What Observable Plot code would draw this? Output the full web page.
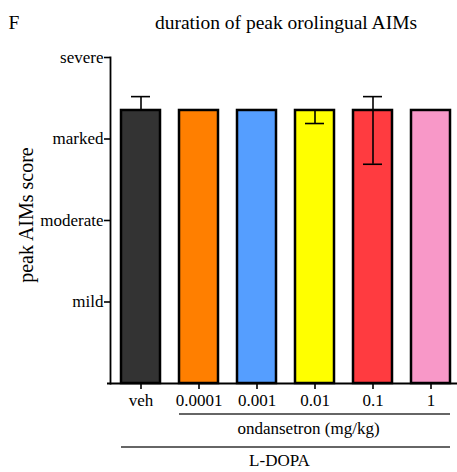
<!DOCTYPE html>
<html>
<head>
<meta charset="utf-8">
<script src="https://cdn.jsdelivr.net/npm/d3@7"></script>
<script src="https://cdn.jsdelivr.net/npm/@observablehq/plot@0.6"></script>
<style>
  html, body { margin: 0; padding: 0; background: white; }
</style>
</head>
<body>
<div id="chart"></div>
<script>
const categories = ["veh", "0.0001", "0.001", "0.01", "0.1", "1"];
const values = [3.35, 3.35, 3.35, 3.35, 3.35, 3.35];
const errHigh = [3.52, null, null, null, 3.52, null];
const errLow = [null, null, null, 3.19, 2.69, null];
const colors = ["#333333", "#FF7F00", "#559EFF", "#FFFF00", "#FF3B40", "#F898C8"];
const yTickValues = [1, 2, 3, 4];
const yTickLabels = ["mild", "moderate", "marked", "severe"];
const title = "duration of peak orolingual AIMs";
const panelLetter = "F";
const yLabel = "peak AIMs score";
const groupDrug = "ondansetron (mg/kg)";
const groupDrugCats = ["0.0001", "1"];
const groupBase = "L-DOPA";
const groupBaseCats = ["veh", "1"];

const data = categories.map((c, i) => ({cat: c, value: values[i], color: colors[i], hi: errHigh[i], lo: errLow[i]}));
const hiData = data.filter(d => d.hi != null);
const loData = data.filter(d => d.lo != null);

const W = 457, H = 472;
const FONT = "Liberation Serif";

const plot = Plot.plot({
  width: W,
  height: H,
  marginTop: 57,
  marginBottom: 89,
  marginLeft: 110,
  marginRight: 0,
  style: {fontFamily: FONT, fontSize: "17px", color: "black", background: "white"},
  x: {domain: categories, range: [110, 461], paddingInner: 0.33, paddingOuter: 0.153, align: 0.5, label: null},
  y: {domain: [0, 4], label: null},
  marks: [
    Plot.barY(data, {x: "cat", y: "value", fill: "color", stroke: "black", strokeWidth: 2.5}),
    Plot.ruleX(hiData, {x: "cat", y1: "value", y2: "hi", stroke: "black", strokeWidth: 1.6}),
    Plot.tickY(hiData, {x: "cat", y: "hi", stroke: "black", strokeWidth: 1.6, insetLeft: 10, insetRight: 10}),
    Plot.ruleX(loData, {x: "cat", y1: "value", y2: "lo", stroke: "black", strokeWidth: 1.6}),
    Plot.tickY(loData, {x: "cat", y: "lo", stroke: "black", strokeWidth: 1.6, insetLeft: 10, insetRight: 10}),
    Plot.axisY({ticks: yTickValues, tickFormat: d => yTickLabels[yTickValues.indexOf(d)], tickSize: 6, tickPadding: 1, fontSize: 17, label: null, strokeWidth: 1.6}),
    Plot.axisX({tickSize: 6, tickPadding: 4, fontSize: 17, label: null, strokeWidth: 1.6}),
    Plot.frame({anchor: "left", stroke: "black", strokeWidth: 1.8}),
    Plot.ruleY([0], {stroke: "black", strokeWidth: 2, insetLeft: -3})
  ]
});

document.getElementById("chart").appendChild(plot);

const svg = d3.select(plot);
const xs = plot.scale("x");
const bw = xs.bandwidth;
const xStart = c => xs.apply(c);

svg.append("text")
  .attr("x", 14).attr("y", 29)
  .attr("font-family", FONT).attr("font-size", 19.5).attr("fill", "black")
  .text(panelLetter);

svg.append("text")
  .attr("x", 286).attr("y", 29)
  .attr("text-anchor", "middle")
  .attr("font-family", FONT).attr("font-size", 19.5).attr("fill", "black")
  .text(title);

svg.append("text")
  .attr("transform", "translate(33,215) rotate(-90)")
  .attr("text-anchor", "middle")
  .attr("font-family", FONT).attr("font-size", 20).attr("fill", "black")
  .text(yLabel);

function group(cats, lineY, textY, label) {
  const x1 = xStart(cats[0]);
  const x2 = xStart(cats[1]) + bw;
  svg.append("line")
    .attr("x1", x1).attr("x2", x2).attr("y1", lineY).attr("y2", lineY)
    .attr("stroke", "#333").attr("stroke-width", 1.6);
  svg.append("text")
    .attr("x", (x1 + x2) / 2 - 6).attr("y", textY)
    .attr("text-anchor", "middle")
    .attr("font-family", FONT).attr("font-size", 17).attr("fill", "black")
    .text(label);
}
group(groupDrugCats, 414, 434, groupDrug);
group(groupBaseCats, 447, 466, groupBase);
</script>
</body>
</html>
